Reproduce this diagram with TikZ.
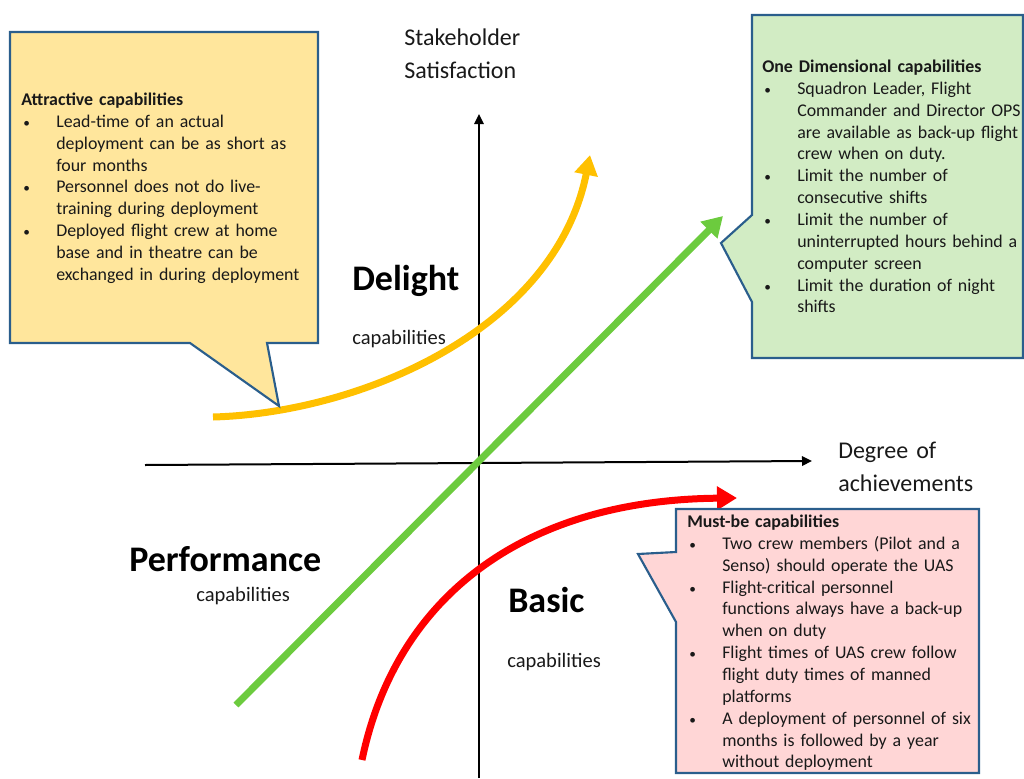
\documentclass[tikz,border=0pt]{standalone}
\usepackage{fontspec}
\setmainfont{Carlito}
\usetikzlibrary{arrows.meta}
\newlength\pxu \setlength\pxu{0.75pt}
\definecolor{calloutborder}{RGB}{42,94,140}
\definecolor{yfill}{RGB}{255,230,156}
\definecolor{gfill}{RGB}{210,236,196}
\definecolor{rfill}{RGB}{255,214,214}
\definecolor{ycurve}{RGB}{255,192,0}
\definecolor{gcurve}{RGB}{108,203,62}
\definecolor{rcurve}{RGB}{255,0,0}
\definecolor{txtc}{RGB}{25,25,25}
\newcommand\bul{\makebox[35\pxu][l]{\hspace{2\pxu}{\fontsize{10pt}{10pt}\selectfont\textbullet}}}
\newcommand\ind{\hspace*{35\pxu}}
\tikzset{
  calloutbox/.style={draw=calloutborder, line width=1.6pt, line join=miter},
  callouttext/.style={anchor=base west, inner sep=0pt, text width=400\pxu, align=left,
    font=\fontsize{13.4pt}{16.39pt}\selectfont, text=txtc},
  axislabel/.style={anchor=base west, inner sep=0pt, text width=250\pxu, align=left,
    font=\fontsize{18pt}{24.75pt}\selectfont, text=txtc},
  biglabel/.style={anchor=base west, inner sep=0pt, font=\fontsize{27pt}{32pt}\selectfont\bfseries, text=black},
  smalllabel/.style={anchor=base west, inner sep=0pt, font=\fontsize{15.4pt}{18pt}\selectfont, text=txtc},
  axisline/.style={line width=1.5pt, black, -{Triangle[length=7.5pt,width=7pt]}},
  curvearrow/.style={line width=5.25pt, -{Triangle[length=15pt,width=17pt]}},
}
\begin{document}
\begin{tikzpicture}[x=0.75pt,y=-0.75pt]
\useasboundingbox (0,0) rectangle (1024,778);

% axes
\coordinate (vb) at (479,778);
\coordinate (vt) at (479,114);
\coordinate (hl) at (145,465);
\coordinate (hr) at (812,461);
\draw[axisline] (vb) -- (vt);
\draw[axisline] (hl) -- (hr);

% curves
\coordinate (ys) at (213,417);
\coordinate (ye) at (590,155);
\coordinate (gs) at (236,705);
\coordinate (ge) at (723,216);
\coordinate (rs) at (362,760);
\coordinate (re) at (737,498);
\draw[curvearrow, ycurve] (ys) .. controls (360,413) and (555,330) .. (ye);
\draw[curvearrow, gcurve] (gs) -- (ge);
\draw[curvearrow, rcurve] (rs) .. controls (395,600) and (520,500) .. (re);

% callout shapes
\draw[calloutbox, fill=yfill] (10,32) -- (318,32) -- (318,343) -- (267,343) -- (279,406) -- (190,343) -- (10,343) -- cycle;
\draw[calloutbox, fill=gfill] (752,15) -- (1023,15) -- (1023,358) -- (752,358) -- (752,302) -- (721,243) -- (752,215) -- cycle;
\draw[calloutbox, fill=rfill] (676,509) -- (979,509) -- (979,773) -- (676,773) -- (676,622) -- (638,554) -- (676,552) -- cycle;

% callout texts
\node[callouttext] (ytext) at (21,105.5) {\textbf{Attractive capabilities}\\
\bul Lead-time of an actual\\
\ind deployment can be as short as\\
\ind four months\\
\bul Personnel does not do live-\\
\ind training during deployment\\
\bul Deployed flight crew at home\\
\ind base and in theatre can be\\
\ind exchanged in during deployment};

\node[callouttext] (gtext) at (762,72.5) {\textbf{One Dimensional capabilities}\\
\bul Squadron Leader, Flight\\
\ind Commander and Director OPS\\
\ind are available as back-up flight\\
\ind crew when on duty.\\
\bul Limit the number of\\
\ind consecutive shifts\\
\bul Limit the number of\\
\ind uninterrupted hours behind a\\
\ind computer screen\\
\bul Limit the duration of night\\
\ind shifts};

\node[callouttext] (rtext) at (687,527.5) {\textbf{Must-be capabilities}\\
\bul Two crew members (Pilot and a\\
\ind Senso) should operate the UAS\\
\bul Flight-critical personnel\\
\ind functions always have a back-up\\
\ind when on duty\\
\bul Flight times of UAS crew follow\\
\ind flight duty times of manned\\
\ind platforms\\
\bul A deployment of personnel of six\\
\ind months is followed by a year\\
\ind without deployment};

% axis labels
\node[axislabel] (ylab) at (404,45) {Stakeholder\\Satisfaction};
\node[axislabel] (xlab) at (838,458) {Degree of\\achievements};

% region labels
\node[biglabel] (delight) at (352,290) {Delight};
\node[smalllabel] (delcap) at (352,344) {capabilities};
\node[biglabel] (perf) at (129,571) {Performance};
\node[smalllabel] (perfcap) at (196,601) {capabilities};
\node[biglabel] (basic) at (508,612) {Basic};
\node[smalllabel] (basiccap) at (507,667) {capabilities};
\end{tikzpicture}
\end{document}
